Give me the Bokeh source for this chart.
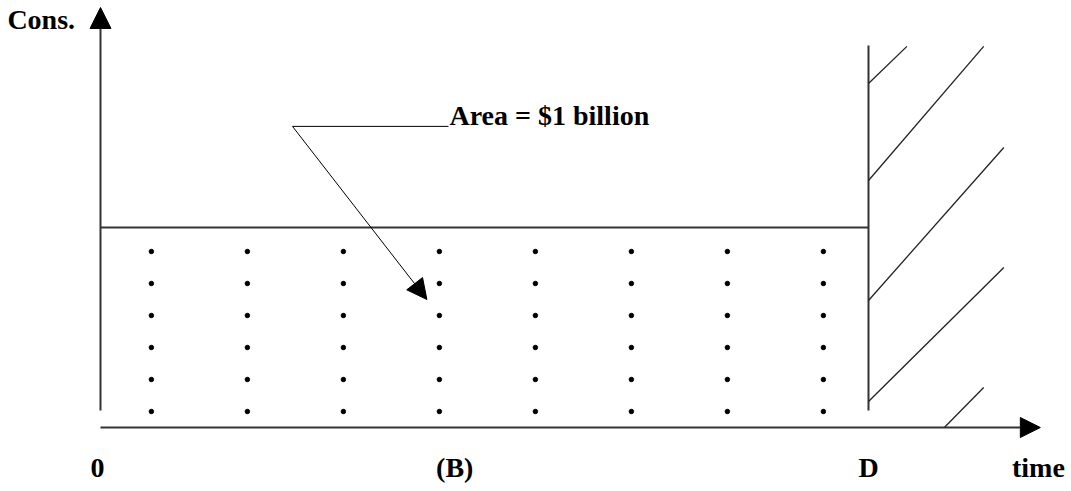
from bokeh.plotting import figure
from bokeh.models import Range1d, Arrow, NormalHead
from bokeh.core.properties import value
from bokeh.embed import file_html
from bokeh.resources import INLINE

# ---- data (time units on x, consumption units on y) ----
D = 8.0                      # date D on the time axis
B = 3.69                     # position of label (B)
cons_level = 6.25            # constant consumption level
dot_cols = [0.53, 1.53, 2.53, 3.53, 4.53, 5.53, 6.53, 7.53]
dot_rows = [0.5, 1.5, 2.5, 3.5, 4.5, 5.5]
hatch_x0 = [8.0, 8.0, 8.0, 8.0, 8.79]
hatch_y0 = [10.75, 7.72, 3.97, 0.81, 0.0]
hatch_x1 = [8.40, 9.20, 9.41, 9.41, 9.20]
hatch_y1 = [11.91, 11.91, 8.75, 5.0, 1.25]
x_labels = ["0", "(B)", "D", "time"]
x_label_pos = [-0.03, B, D, 9.77]
x_label_y = -1.25
callout_text = "Area = $1 billion"
callout_start = (2.0, 9.41)
callout_text_pos = (3.635, 9.75)
callout_arrow_end = (3.40, 4.0)
cons_label_pos = (-0.97, 12.75)
y_axis_top = 13.125
x_axis_end = 9.79
y_axis_bottom = 0.53
d_line_top = 11.94

FONT = value("Liberation Serif")
FS = "28px"

p = figure(width=1071, height=491, output_backend="svg", toolbar_location=None,
           x_range=Range1d(-1.041667, 10.114583), y_range=Range1d(-2.0, 13.34375),
           min_border=0, outline_line_color=None)
p.xaxis.visible = False
p.yaxis.visible = False
p.grid.visible = False

AX = "#333333"

# axes with arrow heads
p.add_layout(Arrow(end=NormalHead(size=21, fill_color="black", line_color="black", line_width=1),
                   x_start=0, y_start=y_axis_bottom, x_end=0, y_end=y_axis_top,
                   line_color=AX, line_width=2))
p.add_layout(Arrow(end=NormalHead(size=20, fill_color="black", line_color="black", line_width=1),
                   x_start=0, y_start=0, x_end=x_axis_end, y_end=0,
                   line_color=AX, line_width=2))

# consumption level and vertical line at D
p.segment(x0=[0], y0=[cons_level], x1=[D], y1=[cons_level], line_color=AX, line_width=2)
p.segment(x0=[D], y0=[y_axis_bottom], x1=[D], y1=[d_line_top], line_color=AX, line_width=2)

# hatching beyond D
p.segment(x0=hatch_x0, y0=hatch_y0, x1=hatch_x1, y1=hatch_y1, line_color="#222222", line_width=1.3)

# dot grid
xs = [c for c in dot_cols for r in dot_rows]
ys = [r for c in dot_cols for r in dot_rows]
p.scatter(x=xs, y=ys, size=4.5, color="black")

# callout
p.segment(x0=[callout_start[0]], y0=[callout_start[1]], x1=[callout_text_pos[0] - 0.01],
          y1=[callout_start[1]], line_color="black", line_width=1)
p.add_layout(Arrow(end=NormalHead(size=20, fill_color="black", line_color="black", line_width=1),
                   x_start=callout_start[0], y_start=callout_start[1],
                   x_end=callout_arrow_end[0], y_end=callout_arrow_end[1],
                   line_color="black", line_width=1))
p.text(x=[callout_text_pos[0]], y=[callout_text_pos[1]], text=[callout_text],
       text_font=FONT, text_font_style="bold", text_font_size=FS,
       text_align="left", text_baseline="alphabetic", text_color="black")

# labels
p.text(x=x_label_pos, y=[x_label_y] * len(x_labels), text=x_labels,
       text_font=FONT, text_font_style="bold", text_font_size=FS,
       text_align="center", text_baseline="alphabetic", text_color="black")
p.text(x=[cons_label_pos[0]], y=[cons_label_pos[1]], text=["Cons."],
       text_font=FONT, text_font_style="bold", text_font_size=FS,
       text_align="left", text_baseline="alphabetic", text_color="black")

open("out.html", "w").write(file_html(p, INLINE))
